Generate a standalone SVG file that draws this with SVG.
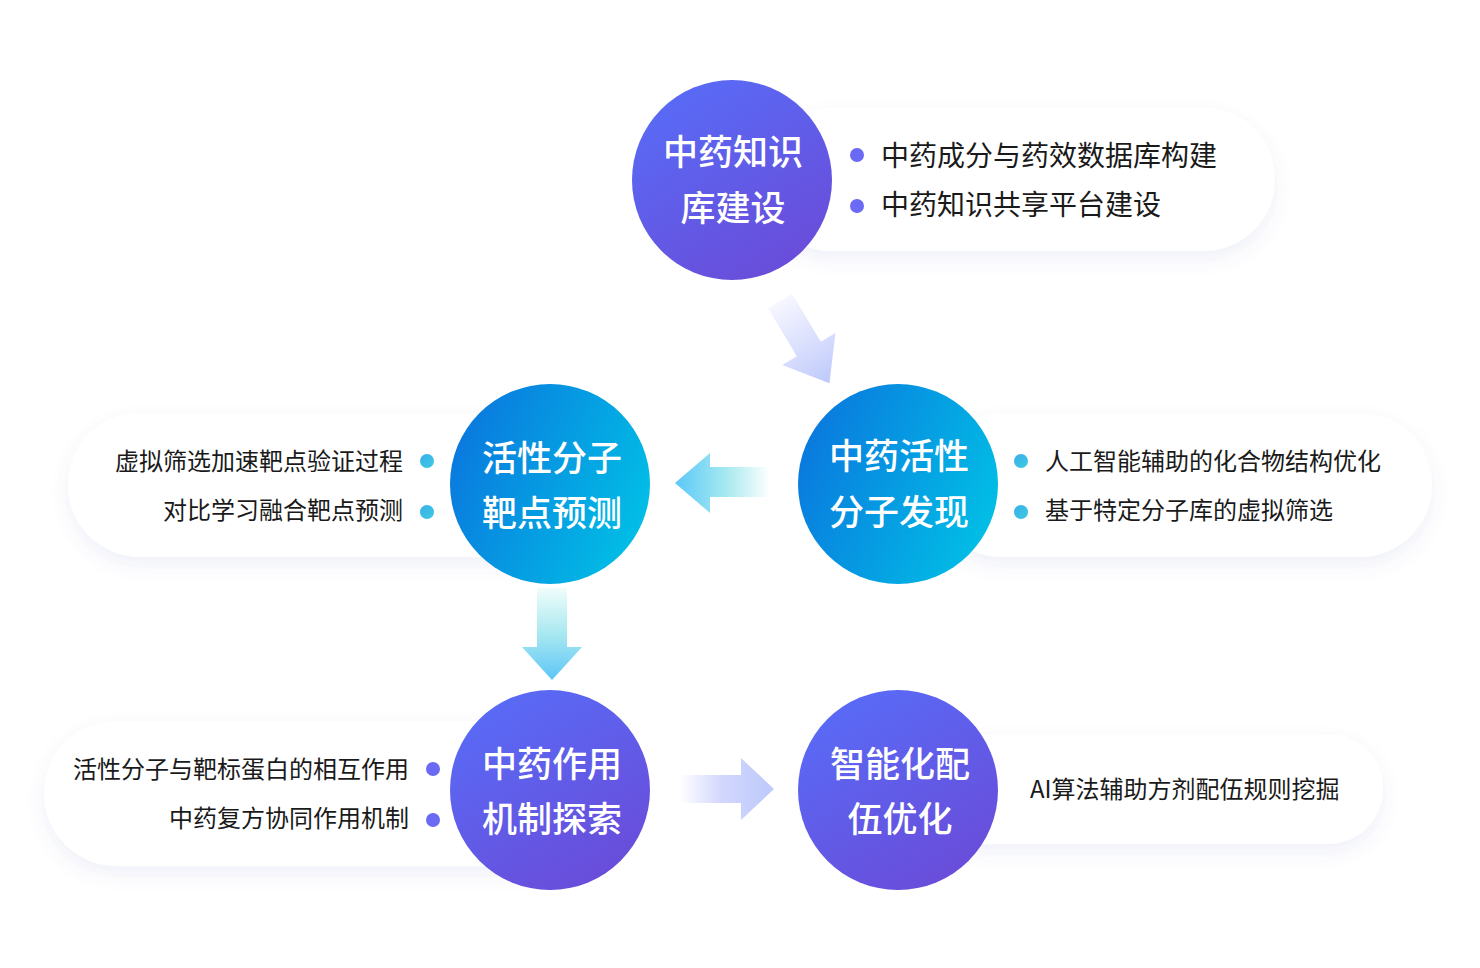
<svg xmlns="http://www.w3.org/2000/svg" width="1480" height="968" viewBox="0 0 1480 968">
<defs>
<linearGradient id="gPurple" x1="0.2" y1="0" x2="0.8" y2="1"><stop offset="0" stop-color="#586cf7"/><stop offset="1" stop-color="#6a4bd8"/></linearGradient>
<linearGradient id="gBlue" x1="0" y1="0.3" x2="1" y2="0.7"><stop offset="0" stop-color="#0a78de"/><stop offset="1" stop-color="#01c0e6"/></linearGradient>
<linearGradient id="gDot" x1="0" y1="0" x2="1" y2="1"><stop offset="0" stop-color="#3aaee9"/><stop offset="1" stop-color="#3ccbe1"/></linearGradient>
<linearGradient id="gA1" gradientUnits="userSpaceOnUse" x1="0" y1="0" x2="0" y2="96"><stop offset="0" stop-color="#f7f7ff"/><stop offset="1" stop-color="#bec9fb"/></linearGradient>
<linearGradient id="gA2" gradientUnits="userSpaceOnUse" x1="675" y1="0" x2="770" y2="0"><stop offset="0" stop-color="#5ac8f8"/><stop offset="0.55" stop-color="#a8eaf0"/><stop offset="1" stop-color="#ffffff"/></linearGradient>
<linearGradient id="gA3" gradientUnits="userSpaceOnUse" x1="0" y1="588" x2="0" y2="680"><stop offset="0" stop-color="#f0fdfb"/><stop offset="0.5" stop-color="#a8e8f0"/><stop offset="1" stop-color="#5cc6f8"/></linearGradient>
<linearGradient id="gA4" gradientUnits="userSpaceOnUse" x1="680" y1="0" x2="774" y2="0"><stop offset="0" stop-color="#ffffff"/><stop offset="0.45" stop-color="#d2d6fd"/><stop offset="1" stop-color="#bccafb"/></linearGradient>
<filter id="sh" x="-10%" y="-30%" width="120%" height="170%"><feDropShadow dx="0" dy="8" stdDeviation="9" flood-color="#5560c0" flood-opacity="0.09"/></filter>
<style>
.pill{fill:#ffffff;filter:url(#sh)}
.ct{font-family:"Noto Sans CJK SC","Noto Sans",sans-serif;font-size:35px;font-weight:500;fill:#ffffff;text-anchor:middle}
.lt{font-family:"Noto Sans CJK SC","Noto Sans",sans-serif;font-size:24px;fill:#1a1a1a}
.lt28{font-family:"Noto Sans CJK SC","Noto Sans",sans-serif;font-size:28px;fill:#1a1a1a}
.end{text-anchor:end}
.dp{fill:#6a6af4}
.dc{fill:url(#gDot)}
</style>
</defs>

<g id="connectors">
<polygon transform="translate(780,301) rotate(-31)" points="-14,0 14,0 14,56 31,56 0,96 -31,56 -14,56" fill="url(#gA1)"/>
<polygon points="770,467 710,467 710,453 675,483 710,513 710,497 770,497" fill="url(#gA2)"/>
<polygon points="537,588 567,588 567,647 582,647 552,680 522,647 537,647" fill="url(#gA3)"/>
<polygon points="680,775 741,775 741,758 774,789 741,820 741,803 680,803" fill="url(#gA4)"/>
</g>

<g id="node1">
<rect class="pill" x="760" y="108" width="515" height="143" rx="71.5"/>
<circle cx="732" cy="180" r="100" fill="url(#gPurple)"/>
<text class="ct" x="733" y="165">中药知识</text>
<text class="ct" x="733" y="221">库建设</text>
<circle class="dp" cx="857" cy="155" r="7"/>
<circle class="dp" cx="857" cy="206" r="7"/>
<text class="lt28" x="881" y="166">中药成分与药效数据库构建</text>
<text class="lt28" x="881" y="215">中药知识共享平台建设</text>
</g>

<g id="node2">
<rect class="pill" x="930" y="413" width="502" height="144" rx="72"/>
<circle cx="898" cy="484" r="100" fill="url(#gBlue)"/>
<text class="ct" x="899" y="469">中药活性</text>
<text class="ct" x="899" y="525">分子发现</text>
<circle class="dc" cx="1021" cy="461" r="7"/>
<circle class="dc" cx="1021" cy="512" r="7"/>
<text class="lt" x="1045" y="470">人工智能辅助的化合物结构优化</text>
<text class="lt" x="1045" y="519">基于特定分子库的虚拟筛选</text>
</g>

<g id="node3">
<rect class="pill" x="68" y="413" width="532" height="144" rx="72"/>
<circle cx="550" cy="484" r="100" fill="url(#gBlue)"/>
<text class="ct" x="552" y="471">活性分子</text>
<text class="ct" x="552" y="526">靶点预测</text>
<circle class="dc" cx="427" cy="461" r="7"/>
<circle class="dc" cx="427" cy="512" r="7"/>
<text class="lt end" x="403" y="470">虚拟筛选加速靶点验证过程</text>
<text class="lt end" x="403" y="519">对比学习融合靶点预测</text>
</g>

<g id="node4">
<rect class="pill" x="44" y="721" width="556" height="145" rx="72.5"/>
<circle cx="550" cy="790" r="100" fill="url(#gPurple)"/>
<text class="ct" x="552" y="777">中药作用</text>
<text class="ct" x="552" y="832">机制探索</text>
<circle class="dp" cx="433" cy="769" r="7"/>
<circle class="dp" cx="433" cy="820" r="7"/>
<text class="lt end" x="409" y="778">活性分子与靶标蛋白的相互作用</text>
<text class="lt end" x="409" y="827">中药复方协同作用机制</text>
</g>

<g id="node5">
<rect class="pill" x="930" y="734" width="453" height="110" rx="55"/>
<circle cx="898" cy="790" r="100" fill="url(#gPurple)"/>
<text class="ct" x="900" y="777">智能化配</text>
<text class="ct" x="900" y="832">伍优化</text>
<text class="lt" x="1030" y="798">AI算法辅助方剂配伍规则挖掘</text>
</g>
</svg>
